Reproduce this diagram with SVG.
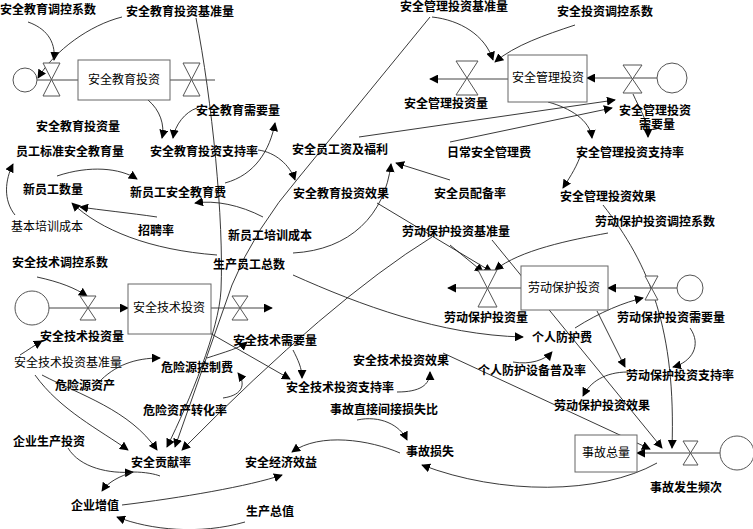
<svg xmlns="http://www.w3.org/2000/svg" width="753" height="529" viewBox="0 0 753 529">
<defs>
<marker id="ah" viewBox="0 0 10 10" refX="9" refY="5" markerWidth="9" markerHeight="9" markerUnits="userSpaceOnUse" orient="auto">
<path d="M0,0 L10,5 L0,10 Z" fill="#000"/>
</marker>
<style>
text{font-family:"Liberation Serif","Noto Sans CJK SC",serif;font-size:12px;fill:#000;text-anchor:middle}
.b{font-weight:bold}
.c{fill:none;stroke:#222;stroke-width:0.9}
.a{marker-end:url(#ah)}
.flow{fill:none;stroke:#444;stroke-width:1}
.box{fill:#fff;stroke:#666;stroke-width:1}
.valve{fill:#fff;stroke:#555;stroke-width:1}
.cloud{fill:#fff;stroke:#555;stroke-width:1}
</style>
</defs>
<rect width="753" height="529" fill="#fff"/>

<g id="connectors">
<path class="c a" d="M28,22 C45,28 56,40 54,60"/>
<path class="c a" d="M122,17 C90,25 55,50 38,78"/>
<path class="c a" d="M148,100 C160,110 165,125 162,138"/>
<path class="c a" d="M197,108 C185,112 175,125 173,138"/>
<path class="c a" d="M196,18 C212,100 224,220 221,290 C219,330 190,400 167,447"/>
<path class="c a" d="M432,17 C460,20 485,35 493,60"/>
<path class="c a" d="M575,25 C545,35 515,45 495,62"/>
<path class="c a" d="M430,17 L300,176 Q255,228 232,285 L175,447"/>
<path class="c a" d="M258,150 C275,152 290,165 295,180"/>
<path class="c a" d="M225,183 C255,175 270,150 275,123"/>
<path class="c a" d="M263,217 C240,205 215,200 195,203"/>
<path class="c a" d="M57,176 C90,165 120,168 137,179"/>
<path class="c a" d="M15,215 C3,200 5,180 13,164"/>
<path class="c a" d="M157,217 C130,213 100,210 80,207"/>
<path class="c a" d="M217,255 C150,250 100,230 72,203"/>
<path class="c a" d="M293,253 C350,250 385,215 391,164"/>
<path class="c a" d="M450,180 L396,163"/>
<path class="c a" d="M359,137 L615,100"/>
<path class="c a" d="M450,142 L612,108"/>
<path class="c a" d="M548,102 C570,108 590,120 592,138"/>
<path class="c a" d="M633,94 C640,110 648,120 648,137"/>
<path class="c a" d="M580,157 C575,170 568,180 563,188"/>
<path class="c a" d="M37,277 C60,282 75,288 87,296"/>
<path class="c a" d="M208,332 L290,379"/>
<path class="c a" d="M293,350 C298,360 302,368 302,378"/>
<path class="c a" d="M207,358 C225,352 240,348 247,342"/>
<path class="c a" d="M223,398 C245,395 245,382 238,373"/>
<path class="c a" d="M98,383 C115,365 135,358 160,358"/>
<path class="c a" d="M35,375 C60,410 100,430 128,450"/>
<path class="c a" d="M42,375 C80,395 130,410 157,450"/>
<path class="c a" d="M20,355 C28,350 35,345 42,341"/>
<path class="c a" d="M432,237 Q330,300 182,450"/>
<path class="c a" d="M68,448 C80,468 110,474 133,472"/>
<path class="c" d="M133,472 C145,472 155,474 160,476"/>
<path class="c a" d="M133,472 C120,476 108,482 102,491"/>
<path class="c a" d="M122,505 C180,498 250,486 282,475"/>
<path class="c a" d="M245,522 C200,535 150,530 117,517"/>
<path class="c a" d="M400,453 C370,440 320,432 292,452"/>
<path class="c a" d="M357,420 C380,415 400,425 407,440"/>
<path class="c a" d="M657,463 C600,495 500,495 422,465"/>
<path class="c a" d="M397,392 C420,392 430,385 430,372"/>
<path class="c a" d="M443,353 L650,449"/>
<path class="c a" d="M513,362 C530,365 545,360 552,352"/>
<path class="c a" d="M575,328 C600,312 625,302 643,298"/>
<path class="c a" d="M293,275 C360,305 440,335 523,337"/>
<path class="c a" d="M450,245 L483,272"/>
<path class="c a" d="M377,203 L492,272"/>
<path class="c a" d="M492,240 L662,448"/>
<path class="c a" d="M608,233 C570,240 520,250 495,270"/>
<path class="c a" d="M690,328 C702,345 692,362 673,367"/>
<path class="c a" d="M597,311 L625,367"/>
<path class="c a" d="M628,372 C605,372 590,382 583,396"/>
<path class="c a" d="M603,205 C650,265 676,330 672,448"/>
</g>

<g id="flows">
<path class="flow" d="M37,80 H78"/>
<path class="flow" d="M170,80 H215"/>
<path class="flow a" d="M508,79 H430"/>
<path class="flow a" d="M657,78 H587"/>
<path class="flow a" d="M49,308 H128"/>
<path class="flow a" d="M211,308 H272"/>
<path class="flow a" d="M521,288 H448"/>
<path class="flow a" d="M677,288 H608"/>
<path class="flow a" d="M720,453 H637"/>
</g>

<g id="edu-source"><circle class="cloud" cx="25" cy="80" r="12"/></g>
<g id="edu-in-valve"><path class="valve" d="M43,63 H60 L43,96 H60 Z"/></g>
<g id="edu-stock"><rect class="box" x="78" y="60" width="92" height="40"/><text x="124" y="84">安全教育投资</text></g>
<g id="edu-out-valve"><path class="valve" d="M183,63 H200 L183,96 H200 Z"/></g>

<g id="mgmt-out-valve"><path class="valve" d="M456,61 H478 L456,95 H478 Z"/></g>
<g id="mgmt-stock"><rect class="box" x="508" y="55" width="79" height="47"/><text x="548" y="82">安全管理投资</text></g>
<g id="mgmt-in-valve"><path class="valve" d="M623,65 H642 L623,93 H642 Z"/></g>
<g id="mgmt-source"><circle class="cloud" cx="672" cy="78" r="15"/></g>

<g id="tech-source"><circle class="cloud" cx="32" cy="308" r="17"/></g>
<g id="tech-in-valve"><path class="valve" d="M80,296 H96 L80,320 H96 Z"/></g>
<g id="tech-stock"><rect class="box" x="128" y="284" width="83" height="50"/><text x="169" y="312">安全技术投资</text></g>
<g id="tech-out-valve"><path class="valve" d="M232,296 H248 L232,320 H248 Z"/></g>

<g id="labor-out-valve"><path class="valve" d="M478,270 H497 L478,307 H497 Z"/></g>
<g id="labor-stock"><rect class="box" x="521" y="266" width="87" height="44"/><text x="564" y="292">劳动保护投资</text></g>
<g id="labor-in-valve"><path class="valve" d="M645,276 H658 L645,300 H658 Z"/></g>
<g id="labor-source"><circle class="cloud" cx="690" cy="288" r="13"/></g>

<g id="acc-stock"><rect class="box" x="575" y="435" width="62" height="37"/><text x="606" y="457">事故总量</text></g>
<g id="acc-valve"><path class="valve" d="M683,441 H698 L683,465 H698 Z"/></g>
<g id="acc-source"><circle class="cloud" cx="737" cy="453" r="17"/></g>

<g id="n1"><text class="b" x="48" y="14">安全教育调控系数</text></g>
<g id="n2"><text class="b" x="180" y="16">安全教育投资基准量</text></g>
<g id="n3"><text class="b" x="454" y="11">安全管理投资基准量</text></g>
<g id="n4"><text class="b" x="605" y="16">安全投资调控系数</text></g>
<g id="n5"><text class="b" x="446" y="108">安全管理投资量</text></g>
<g id="n6"><text class="b" x="238" y="115">安全教育需要量</text></g>
<g id="n7"><text class="b" x="655" y="115">安全管理投资</text><text class="b" x="657" y="129">需要量</text></g>
<g id="n8"><text class="b" x="78" y="131">安全教育投资量</text></g>
<g id="n9"><text class="b" x="70" y="156">员工标准安全教育量</text></g>
<g id="n10"><text class="b" x="204" y="156">安全教育投资支持率</text></g>
<g id="n11"><text class="b" x="340" y="154">安全员工资及福利</text></g>
<g id="n12"><text class="b" x="489" y="157">日常安全管理费</text></g>
<g id="n13"><text class="b" x="630" y="157">安全管理投资支持率</text></g>
<g id="n14"><text class="b" x="53" y="194">新员工数量</text></g>
<g id="n15"><text class="b" x="178" y="197">新员工安全教育费</text></g>
<g id="n16"><text class="b" x="341" y="198">安全教育投资效果</text></g>
<g id="n17"><text class="b" x="470" y="198">安全员配备率</text></g>
<g id="n18"><text class="b" x="608" y="201">安全管理投资效果</text></g>
<g id="n19"><text x="47" y="231">基本培训成本</text></g>
<g id="n20"><text class="b" x="156" y="235">招聘率</text></g>
<g id="n21"><text class="b" x="270" y="240">新员工培训成本</text></g>
<g id="n22"><text class="b" x="456" y="236">劳动保护投资基准量</text></g>
<g id="n23"><text class="b" x="655" y="226">劳动保护投资调控系数</text></g>
<g id="n24"><text class="b" x="60" y="267">安全技术调控系数</text></g>
<g id="n25"><text class="b" x="249" y="269">生产员工总数</text></g>
<g id="n26"><text class="b" x="486" y="322">劳动保护投资量</text></g>
<g id="n27"><text class="b" x="671" y="322">劳动保护投资需要量</text></g>
<g id="n28"><text class="b" x="82" y="341">安全技术投资量</text></g>
<g id="n29"><text class="b" x="562" y="342">个人防护费</text></g>
<g id="n30"><text class="b" x="275" y="345">安全技术需要量</text></g>
<g id="n31"><text x="68" y="367">安全技术投资基准量</text></g>
<g id="n32"><text class="b" x="197" y="372">危险源控制费</text></g>
<g id="n33"><text class="b" x="401" y="365">安全技术投资效果</text></g>
<g id="n34"><text class="b" x="532" y="375">个人防护设备普及率</text></g>
<g id="n35"><text class="b" x="680" y="380">劳动保护投资支持率</text></g>
<g id="n36"><text class="b" x="85" y="390">危险源资产</text></g>
<g id="n37"><text class="b" x="340" y="392">安全技术投资支持率</text></g>
<g id="n38"><text class="b" x="602" y="410">劳动保护投资效果</text></g>
<g id="n39"><text class="b" x="185" y="415">危险资产转化率</text></g>
<g id="n40"><text class="b" x="384" y="414">事故直接间接损失比</text></g>
<g id="n41"><text class="b" x="49" y="446">企业生产投资</text></g>
<g id="n42"><text class="b" x="430" y="456">事故损失</text></g>
<g id="n43"><text class="b" x="161" y="467">安全贡献率</text></g>
<g id="n44"><text class="b" x="281" y="467">安全经济效益</text></g>
<g id="n45"><text class="b" x="686" y="492">事故发生频次</text></g>
<g id="n46"><text class="b" x="95" y="510">企业增值</text></g>
<g id="n47"><text class="b" x="270" y="516">生产总值</text></g>
</svg>
